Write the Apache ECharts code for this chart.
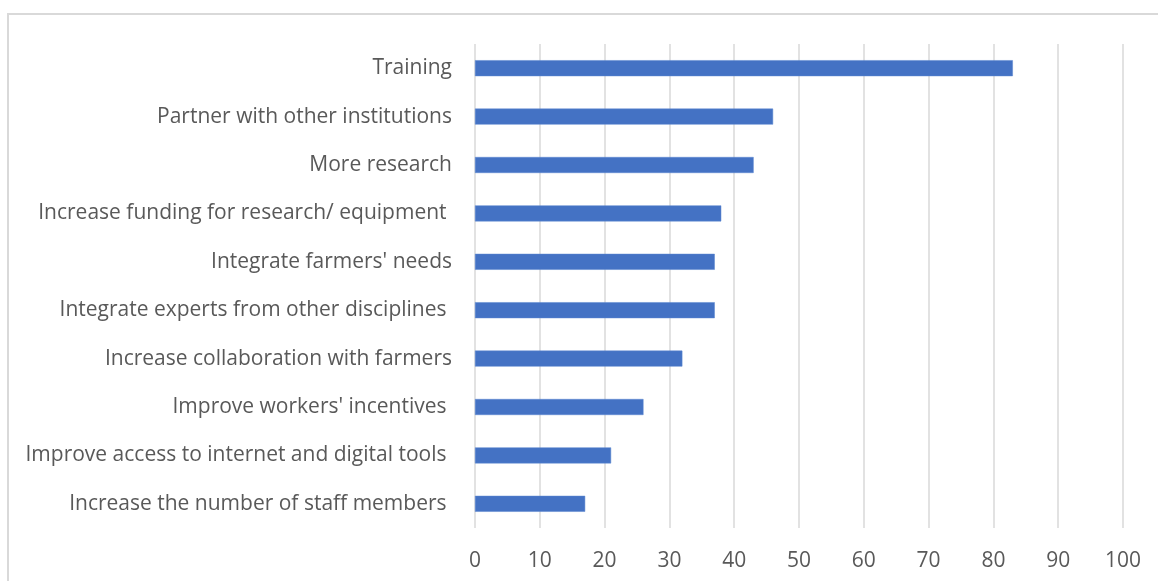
<!DOCTYPE html>
<html><head><meta charset="utf-8">
<script src="https://cdn.jsdelivr.net/npm/echarts@6/dist/echarts.min.js"></script>
<style>html,body{margin:0;padding:0;background:#fff}#c{width:1158px;height:581px}</style>
</head><body><div id="c"></div>
<script>
const categories = [
  "Increase the number of staff members ",
  "Improve access to internet and digital tools ",
  "Improve workers' incentives ",
  "Increase collaboration with farmers",
  "Integrate experts from other disciplines ",
  "Integrate farmers' needs",
  "Increase funding for research/ equipment ",
  "More research",
  "Partner with other institutions",
  "Training"
];
const values = [17, 21, 26, 32, 37, 37, 38, 43, 46, 83];
const xTicks = [0, 10, 20, 30, 40, 50, 60, 70, 80, 90, 100];

const chart = echarts.init(document.getElementById('c'), null, {renderer: 'canvas'});
const font = '"Open Sans", "Liberation Sans", sans-serif';
chart.setOption({
  animation: false,
  backgroundColor: '#fff',
  graphic: [
    {type: 'line', shape: {x1: 7, y1: 14, x2: 1158, y2: 14}, style: {stroke: '#d9d9d9', lineWidth: 2}},
    {type: 'line', shape: {x1: 8, y1: 13, x2: 8, y2: 581}, style: {stroke: '#d9d9d9', lineWidth: 2}}
  ],
  grid: {left: 475, right: 35, top: 44, bottom: 53, containLabel: false},
  xAxis: {
    type: 'value', min: xTicks[0], max: xTicks[xTicks.length - 1], interval: 10,
    axisLine: {show: false}, axisTick: {show: false},
    splitLine: {show: true, lineStyle: {color: '#d9d9d9', width: 1.5}},
    axisLabel: {color: '#595959', fontSize: 21, fontFamily: font, margin: 23}
  },
  yAxis: {
    type: 'category', data: categories,
    axisLine: {show: false}, axisTick: {show: false},
    axisLabel: {color: '#595959', fontSize: 21, fontFamily: font, margin: 23}
  },
  series: [{
    type: 'bar', data: values, barWidth: '33%',
    itemStyle: {color: '#4472c4', borderColor: '#5b86d0', borderWidth: 0.5}
  }]
});
</script></body></html>
